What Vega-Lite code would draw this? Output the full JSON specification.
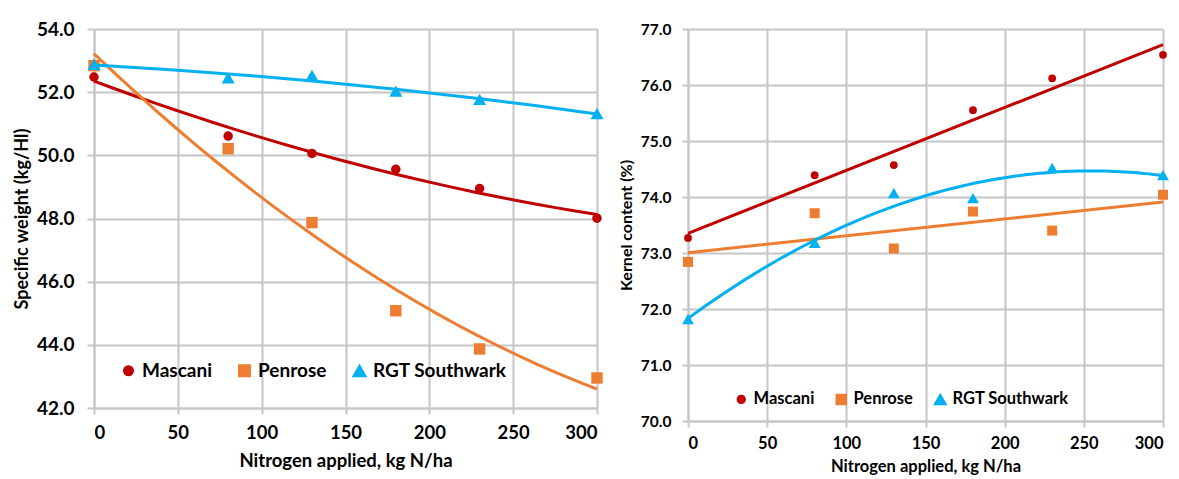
{
  "$schema": "https://vega.github.io/schema/vega-lite/v6.json",
  "background": "white",
  "padding": {"left": 13, "top": 20, "right": 2, "bottom": 0},
  "config": {
    "font": "Lato",
    "view": {"stroke": null},
    "axis": {
      "gridColor": "#c6c6c6", "gridWidth": 2,
      "domainColor": "#c6c6c6", "domainWidth": 2,
      "tickColor": "#c6c6c6", "tickWidth": 2, "tickSize": 6,
      "labelColor": "#000000", "labelFontWeight": "bold",
      "titleColor": "#000000", "titleFontWeight": "bold"
    },
    "legend": {"labelColor": "#000000", "labelFontWeight": "bold"}
  },
  "datasets": {
    "sw": [
      {"N": 0, "variety": "Mascani", "value": 52.48},
      {"N": 80, "variety": "Mascani", "value": 50.61},
      {"N": 130, "variety": "Mascani", "value": 50.06},
      {"N": 180, "variety": "Mascani", "value": 49.56},
      {"N": 230, "variety": "Mascani", "value": 48.95},
      {"N": 300, "variety": "Mascani", "value": 48.01},
      {"N": 0, "variety": "Penrose", "value": 52.84},
      {"N": 80, "variety": "Penrose", "value": 50.21},
      {"N": 130, "variety": "Penrose", "value": 47.87},
      {"N": 180, "variety": "Penrose", "value": 45.08},
      {"N": 230, "variety": "Penrose", "value": 43.87},
      {"N": 300, "variety": "Penrose", "value": 42.95},
      {"N": 0, "variety": "RGT Southwark", "value": 52.88},
      {"N": 80, "variety": "RGT Southwark", "value": 52.45},
      {"N": 130, "variety": "RGT Southwark", "value": 52.53},
      {"N": 180, "variety": "RGT Southwark", "value": 52.03},
      {"N": 230, "variety": "RGT Southwark", "value": 51.77},
      {"N": 300, "variety": "RGT Southwark", "value": 51.32}
    ],
    "kc": [
      {"N": 0, "variety": "Mascani", "value": 73.27},
      {"N": 80, "variety": "Mascani", "value": 74.39},
      {"N": 130, "variety": "Mascani", "value": 74.57},
      {"N": 180, "variety": "Mascani", "value": 75.55},
      {"N": 230, "variety": "Mascani", "value": 76.12},
      {"N": 300, "variety": "Mascani", "value": 76.54},
      {"N": 0, "variety": "Penrose", "value": 72.84},
      {"N": 80, "variety": "Penrose", "value": 73.71},
      {"N": 130, "variety": "Penrose", "value": 73.08},
      {"N": 180, "variety": "Penrose", "value": 73.74},
      {"N": 230, "variety": "Penrose", "value": 73.40},
      {"N": 300, "variety": "Penrose", "value": 74.04},
      {"N": 0, "variety": "RGT Southwark", "value": 71.82},
      {"N": 80, "variety": "RGT Southwark", "value": 73.18},
      {"N": 130, "variety": "RGT Southwark", "value": 74.07},
      {"N": 180, "variety": "RGT Southwark", "value": 73.98},
      {"N": 230, "variety": "RGT Southwark", "value": 74.52},
      {"N": 300, "variety": "RGT Southwark", "value": 74.39}
    ]
  },
  "spacing": 14,
  "resolve": {
    "scale": {"x": "independent", "y": "independent", "color": "independent", "shape": "independent", "size": "independent"},
    "legend": {"color": "independent", "shape": "independent", "size": "independent"}
  },
  "hconcat": [
    {
      "width": 503,
      "height": 379,
      "data": {"name": "sw"},
      "encoding": {
        "x": {"field": "N", "type": "quantitative",
          "scale": {"domain": [0, 300], "nice": false, "zero": false},
          "axis": {"values": [0, 50, 100, 150, 200, 250, 300], "title": "Nitrogen applied, kg N/ha",
            "labelFontSize": 18.5, "titleFontSize": 18.5, "labelPadding": 9, "titlePadding": 10}},
        "y": {"field": "value", "type": "quantitative",
          "scale": {"domain": [42, 54], "nice": false, "zero": false},
          "axis": {"values": [42, 44, 46, 48, 50, 52, 54], "format": ".1f", "title": "Specific weight (kg/Hl)",
            "labelFontSize": 19, "titleFontSize": 18, "tickSize": 7, "labelPadding": 13, "titlePadding": 5}},
        "color": {"field": "variety", "type": "nominal",
          "scale": {"domain": ["Mascani", "Penrose", "RGT Southwark"], "range": ["#C00000", "#ED7D31", "#00B0F0"]},
          "legend": {"orient": "none", "direction": "horizontal", "legendX": 25, "legendY": 332, "title": null,
            "labelFontSize": 19, "columnPadding": 22, "symbolOpacity": 1, "labelOffset": 4}}
      },
      "layer": [
        {
          "mark": {"type": "point", "filled": true, "opacity": 1},
          "encoding": {
            "shape": {"field": "variety", "type": "nominal",
              "scale": {"domain": ["Mascani", "Penrose", "RGT Southwark"], "range": ["circle", "square", "triangle-up"]},
              "legend": {"orient": "none", "direction": "horizontal", "legendX": 25, "legendY": 332, "title": null,
                "labelFontSize": 19, "columnPadding": 22, "symbolOpacity": 1, "labelOffset": 4}},
            "size": {"field": "variety", "type": "nominal",
              "scale": {"domain": ["Mascani", "Penrose", "RGT Southwark"], "range": [90, 170, 150]},
              "legend": {"orient": "none", "direction": "horizontal", "legendX": 25, "legendY": 332, "title": null,
                "labelFontSize": 19, "columnPadding": 22, "symbolOpacity": 1, "labelOffset": 4}}
          }
        },
        {
          "transform": [
            {"regression": "value", "on": "N", "groupby": ["variety"], "method": "poly", "order": 2, "extent": [0, 300]}
          ],
          "mark": {"type": "line", "strokeWidth": 3},
          "encoding": {}
        }
      ]
    },
    {
      "width": 475,
      "height": 392,
      "data": {"name": "kc"},
      "encoding": {
        "x": {"field": "N", "type": "quantitative",
          "scale": {"domain": [0, 300], "nice": false, "zero": false},
          "axis": {"values": [0, 50, 100, 150, 200, 250, 300], "title": "Nitrogen applied, kg N/ha",
            "labelFontSize": 16.5, "titleFontSize": 16.5, "labelPadding": 8, "titlePadding": 7}},
        "y": {"field": "value", "type": "quantitative",
          "scale": {"domain": [70, 77], "nice": false, "zero": false},
          "axis": {"values": [70, 71, 72, 73, 74, 75, 76, 77], "format": ".1f", "title": "Kernel content (%)",
            "labelFontSize": 15.5, "titleFontSize": 16, "labelPadding": 11, "titlePadding": 6}},
        "color": {"field": "variety", "type": "nominal",
          "scale": {"domain": ["Mascani", "Penrose", "RGT Southwark"], "range": ["#C00000", "#ED7D31", "#00B0F0"]},
          "legend": {"orient": "none", "direction": "horizontal", "legendX": 45, "legendY": 362, "title": null,
            "labelFontSize": 16.5, "columnPadding": 18, "symbolOpacity": 1, "labelOffset": 4}}
      },
      "layer": [
        {
          "mark": {"type": "point", "filled": true, "opacity": 1},
          "encoding": {
            "shape": {"field": "variety", "type": "nominal",
              "scale": {"domain": ["Mascani", "Penrose", "RGT Southwark"], "range": ["circle", "square", "triangle-up"]},
              "legend": {"orient": "none", "direction": "horizontal", "legendX": 45, "legendY": 362, "title": null,
                "labelFontSize": 16.5, "columnPadding": 18, "symbolOpacity": 1, "labelOffset": 4}},
            "size": {"field": "variety", "type": "nominal",
              "scale": {"domain": ["Mascani", "Penrose", "RGT Southwark"], "range": [60, 140, 130]},
              "legend": {"orient": "none", "direction": "horizontal", "legendX": 45, "legendY": 362, "title": null,
                "labelFontSize": 16.5, "columnPadding": 18, "symbolOpacity": 1, "labelOffset": 4}}
          }
        },
        {
          "transform": [
            {"filter": {"field": "variety", "oneOf": ["Mascani", "Penrose"]}},
            {"regression": "value", "on": "N", "groupby": ["variety"], "method": "linear", "extent": [0, 300]}
          ],
          "mark": {"type": "line", "strokeWidth": 3},
          "encoding": {}
        },
        {
          "transform": [
            {"filter": {"field": "variety", "equal": "RGT Southwark"}},
            {"regression": "value", "on": "N", "groupby": ["variety"], "method": "poly", "order": 2, "extent": [0, 300]}
          ],
          "mark": {"type": "line", "strokeWidth": 3},
          "encoding": {}
        }
      ]
    }
  ]
}
